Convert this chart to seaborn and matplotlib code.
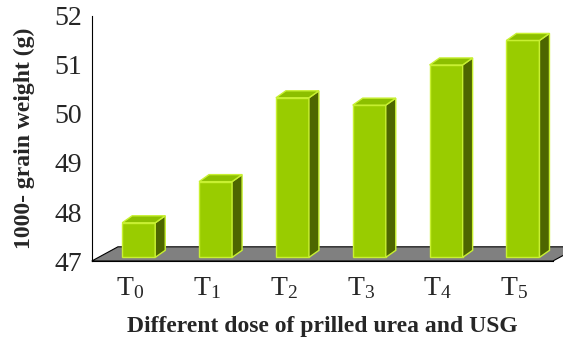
import matplotlib
matplotlib.use("Agg")
import matplotlib.pyplot as plt
import seaborn as sns
import pandas as pd
from matplotlib.patches import Polygon

# data
treatments = ["T0", "T1", "T2", "T3", "T4", "T5"]
tick_labels = [r"T$_0$", r"T$_1$", r"T$_2$", r"T$_3$", r"T$_4$", r"T$_5$"]
grain_weight = [47.78, 48.62, 50.33, 50.18, 51.0, 51.5]

df = pd.DataFrame({"trt": treatments, "weight": grain_weight})

sns.set_style("white")
plt.rcParams["font.family"] = ["Liberation Serif", "DejaVu Serif"]
plt.rcParams["mathtext.fontset"] = "custom"
plt.rcParams["mathtext.rm"] = "Liberation Serif"
plt.rcParams["mathtext.it"] = "Liberation Serif"
plt.rcParams["mathtext.default"] = "regular"

FRONT = "#99CC00"
SIDE = "#4D6600"
TOP = "#8CBF00"
EDGE = "#C8F032"

fig = plt.figure(figsize=(5.63, 3.39), dpi=100)
ax = fig.add_axes([0.163, 0.230, 0.819, 0.723])

sns.barplot(data=df, x="trt", y="weight", color=FRONT, width=0.43,
            saturation=1, ax=ax, zorder=3)

ymin, ymax = 47, 52
ax.set_ylim(ymin, ymax)
ax.set_xlim(-0.5, len(treatments) - 0.5)

# grey floor
fdx, fdy = 0.34, 0.29
floor = Polygon([(-0.5, ymin), (len(treatments) - 0.5, ymin),
                 (len(treatments) - 0.5 + fdx, ymin + fdy), (-0.5 + fdx, ymin + fdy)],
                closed=True, facecolor="#808080", edgecolor="black", lw=0.8,
                zorder=1, clip_on=False)
ax.add_patch(floor)

# fake 3d faces for each bar
shift, base = 0.111, ymin + 0.075
dx, dy = 0.13, 0.143
for p in ax.patches:
    if p is floor:
        continue
    top = p.get_y() + p.get_height()
    p.set_x(p.get_x() + shift)
    p.set_y(base)
    p.set_height(top - base)
    p.set_edgecolor(EDGE)
    p.set_linewidth(1.0)
    x0 = p.get_x()
    x1 = x0 + p.get_width()
    side = Polygon([(x1, base), (x1, top), (x1 + dx, top + dy), (x1 + dx, base + dy)],
                   closed=True, facecolor=SIDE, edgecolor=EDGE, lw=1.0, zorder=3)
    cap = Polygon([(x0, top), (x1, top), (x1 + dx, top + dy), (x0 + dx, top + dy)],
                  closed=True, facecolor=TOP, edgecolor=EDGE, lw=1.0, zorder=3)
    ax.add_patch(side)
    ax.add_patch(cap)

# ticks: marks at category boundaries, labels at centres
ax.set_xticks([i for i in range(len(treatments))])
ax.set_xticklabels(tick_labels, fontsize=20)
ax.set_xticks([i - 0.5 for i in range(len(treatments) + 1)], minor=True)
ax.tick_params(axis="x", which="major", length=0, pad=10)
ax.tick_params(axis="x", which="minor", length=5, width=0.8, color="black", direction="out")
ax.set_yticks(range(ymin, ymax + 1))
ax.tick_params(axis="y", labelsize=20, length=5, width=0.8, color="black", direction="out", pad=2)

for s in ["top", "right"]:
    ax.spines[s].set_visible(False)
for s in ["left", "bottom"]:
    ax.spines[s].set_color("black")
    ax.spines[s].set_linewidth(0.8)

ax.set_xlabel("Different dose of prilled urea and USG", fontsize=17, fontweight="bold", labelpad=11)
ax.set_ylabel("1000- grain weight (g)", fontsize=17, fontweight="bold", labelpad=14)

fig.savefig("out.png", dpi=100)
